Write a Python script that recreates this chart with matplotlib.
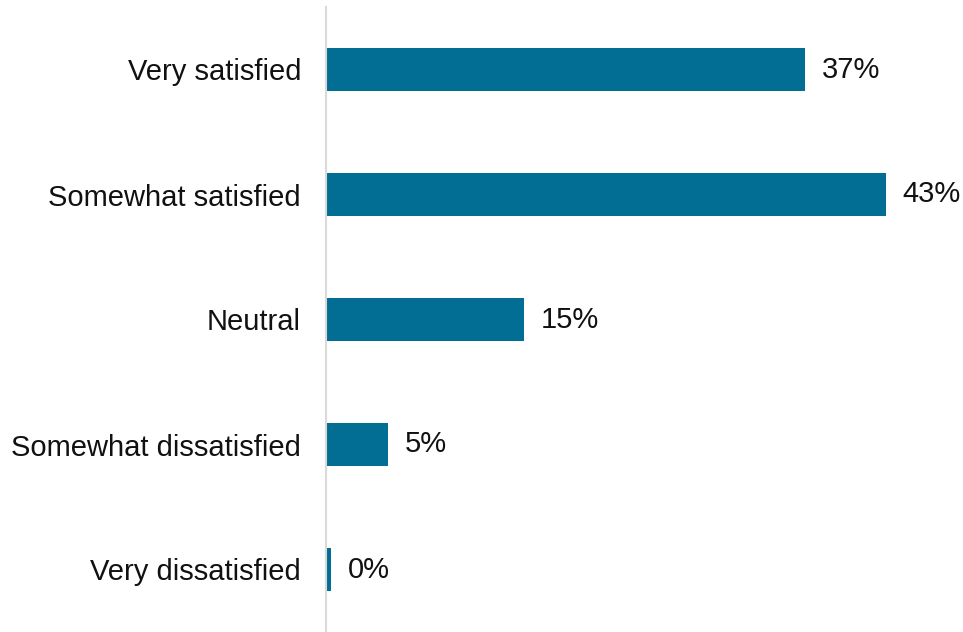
import matplotlib
matplotlib.use("Agg")
import matplotlib.pyplot as plt

categories = ["Very satisfied", "Somewhat satisfied", "Neutral", "Somewhat dissatisfied", "Very dissatisfied"]
values = [36.8, 43.0, 15.2, 4.8, 0.4]
labels = ["37%", "43%", "15%", "5%", "0%"]

plt.rcParams['font.family'] = ['Liberation Sans', 'DejaVu Sans']

fig = plt.figure(figsize=(9.63, 6.32), dpi=100)
ax = fig.add_axes([326/963, 0, 1 - 326/963, 625/632])

y = list(range(len(categories)))
ax.barh(y, values, height=0.35, color="#026E94")
for yi, v, lab in zip(y, values, labels):
    ax.annotate(lab, (v, yi), xytext=(12, 0), textcoords="offset points",
                va="center", ha="left", fontsize=21, color="#111111")

ax.set_xlim(0, 637/13.02)
ax.set_ylim(len(categories) - 0.5, -0.5)
ax.set_yticks(y)
ax.set_yticklabels(categories, fontsize=21, color="#111111")
ax.tick_params(axis="y", length=0, pad=18)
ax.set_xticks([])
for s in ["top", "right", "bottom"]:
    ax.spines[s].set_visible(False)
ax.spines["left"].set_color("#d9d9d9")
ax.spines["left"].set_linewidth(1.5)

fig.savefig("out.png", dpi=100)
